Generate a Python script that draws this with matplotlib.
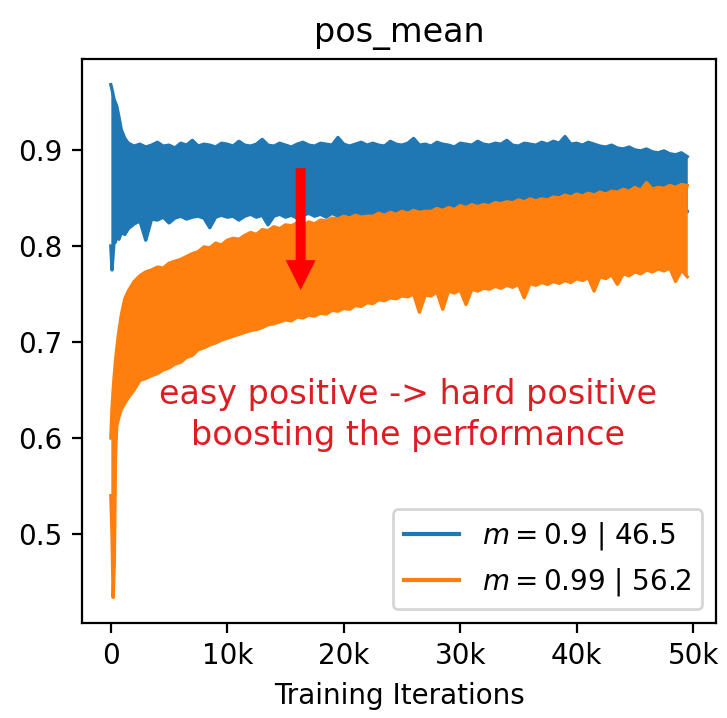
import matplotlib
matplotlib.use("Agg")
import matplotlib.pyplot as plt
import numpy as np

# ---- data ----
iters_early = [0, 100, 200, 300, 400, 500, 700, 900, 1200, 1500, 2000]
iters = np.array(iters_early + list(range(2500, 50000, 500)))

blue_top = [
    0.968, 0.963, 0.957, 0.952, 0.949, 0.946, 0.934, 0.921, 0.912, 0.907, 0.904,
    0.906, 0.903, 0.905, 0.908, 0.904, 0.905, 0.902, 0.907, 0.905, 0.910,
    0.904, 0.906, 0.905, 0.903, 0.907, 0.906, 0.904, 0.909, 0.905, 0.904,
    0.906, 0.911, 0.905, 0.904, 0.907, 0.905, 0.903, 0.906, 0.908, 0.905,
    0.904, 0.907, 0.906, 0.905, 0.913, 0.906, 0.904, 0.906, 0.908, 0.905,
    0.907, 0.905, 0.904, 0.909, 0.906, 0.905, 0.907, 0.912, 0.905, 0.906,
    0.904, 0.908, 0.906, 0.905, 0.903, 0.907, 0.906, 0.905, 0.909, 0.906,
    0.905, 0.907, 0.906, 0.910, 0.905, 0.904, 0.907, 0.906, 0.905, 0.908,
    0.906, 0.909, 0.907, 0.914, 0.906, 0.907, 0.905, 0.908, 0.906, 0.904,
    0.903, 0.905, 0.902, 0.901, 0.903, 0.900, 0.899, 0.901, 0.898, 0.897,
    0.899, 0.896, 0.895, 0.897, 0.893,
]
blue_bottom = [
    0.800, 0.775, 0.792, 0.808, 0.804, 0.812, 0.807, 0.814, 0.812, 0.818, 0.823,
    0.826, 0.806, 0.828, 0.827, 0.830, 0.824, 0.829, 0.831, 0.828, 0.830,
    0.831, 0.829, 0.819, 0.830, 0.832, 0.830, 0.831, 0.827, 0.831, 0.833,
    0.830, 0.832, 0.822, 0.831, 0.833, 0.830, 0.832, 0.829, 0.832, 0.834,
    0.831, 0.833, 0.830, 0.834, 0.831, 0.833, 0.830, 0.833, 0.832, 0.833,
    0.832, 0.830, 0.832, 0.829, 0.831, 0.833, 0.830, 0.832, 0.831, 0.832,
    0.831, 0.832, 0.830, 0.832, 0.831, 0.833, 0.831, 0.832, 0.830, 0.832,
    0.831, 0.832, 0.830, 0.832, 0.831, 0.833, 0.832, 0.833, 0.831, 0.833,
    0.832, 0.833, 0.831, 0.834, 0.832, 0.834, 0.833, 0.834, 0.832, 0.834,
    0.833, 0.835, 0.833, 0.835, 0.834, 0.835, 0.834, 0.836, 0.834, 0.836,
    0.835, 0.836, 0.835, 0.837, 0.836,
]
orange_top = [
    0.600, 0.630, 0.650, 0.666, 0.680, 0.692, 0.712, 0.728, 0.745, 0.753, 0.763,
    0.769, 0.773, 0.775, 0.778, 0.777, 0.782, 0.784, 0.786, 0.789, 0.792,
    0.794, 0.799, 0.798, 0.803, 0.801, 0.806, 0.808, 0.807, 0.811, 0.814,
    0.812, 0.817, 0.816, 0.820, 0.818, 0.822, 0.821, 0.824, 0.822, 0.825,
    0.823, 0.827, 0.826, 0.829, 0.828, 0.831, 0.829, 0.832, 0.830, 0.831,
    0.831, 0.834, 0.832, 0.835, 0.833, 0.836, 0.834, 0.837, 0.835, 0.836,
    0.836, 0.839, 0.837, 0.840, 0.838, 0.842, 0.840, 0.843, 0.841, 0.843,
    0.842, 0.845, 0.844, 0.846, 0.845, 0.848, 0.846, 0.849, 0.847, 0.849,
    0.848, 0.851, 0.850, 0.853, 0.851, 0.854, 0.852, 0.855, 0.853, 0.856,
    0.854, 0.857, 0.856, 0.859, 0.857, 0.861, 0.858, 0.866, 0.859, 0.861,
    0.860, 0.863, 0.861, 0.864, 0.863,
]
orange_bottom = [
    0.540, 0.500, 0.434, 0.470, 0.580, 0.612, 0.622, 0.630, 0.636, 0.642, 0.650,
    0.660, 0.662, 0.665, 0.667, 0.671, 0.673, 0.677, 0.679, 0.684, 0.686,
    0.692, 0.694, 0.697, 0.699, 0.702, 0.704, 0.706, 0.708, 0.710, 0.712,
    0.713, 0.715, 0.718, 0.719, 0.721, 0.723, 0.722, 0.726, 0.725, 0.728,
    0.727, 0.730, 0.729, 0.733, 0.732, 0.735, 0.734, 0.738, 0.737, 0.741,
    0.740, 0.744, 0.743, 0.746, 0.745, 0.748, 0.747, 0.750, 0.731, 0.749,
    0.748, 0.752, 0.734, 0.753, 0.751, 0.754, 0.739, 0.755, 0.753, 0.756,
    0.755, 0.758, 0.756, 0.759, 0.757, 0.760, 0.746, 0.761, 0.759, 0.762,
    0.760, 0.763, 0.761, 0.764, 0.762, 0.766, 0.764, 0.767, 0.753, 0.768,
    0.766, 0.770, 0.760, 0.771, 0.769, 0.773, 0.771, 0.775, 0.773, 0.776,
    0.774, 0.777, 0.763, 0.775, 0.768,
]

series_labels = [r"$m = 0.9$ | 46.5", r"$m = 0.99$ | 56.2"]
series_colors = ["#1f77b4", "#ff7f0e"]
xtick_vals = [0, 10000, 20000, 30000, 40000, 50000]
xtick_labels = ["0", "10k", "20k", "30k", "40k", "50k"]
title = "pos_mean"
xlabel = "Training Iterations"
note = "easy positive -> hard positive\nboosting the performance"
arrow_x = 16300
arrow_from, arrow_to = 0.881, 0.754

# ---- plot ----
fig = plt.figure(figsize=(7.27 / 2, 7.18 / 2), dpi=200)
ax = fig.add_axes([0.1128, 0.1323, 0.985 - 0.1128, 0.9178 - 0.1323])

for k, (top, bot, col) in enumerate([
    (blue_top, blue_bottom, series_colors[0]),
    (orange_top, orange_bottom, series_colors[1]),
]):
    z = 2 + k
    ax.fill_between(iters, bot, top, color=col, lw=0, zorder=z)
    ax.plot(iters, top, color=col, lw=1.2, zorder=z + 0.1)
    ax.plot(iters, bot, color=col, lw=1.2, zorder=z + 0.1)

ax.annotate("", xy=(arrow_x, arrow_to), xytext=(arrow_x, arrow_from),
            arrowprops=dict(facecolor="red", edgecolor="none", width=3.6,
                            headwidth=10.8, headlength=10.8, shrink=0),
            zorder=6)

ax.text(0.514, 0.369, note, transform=ax.transAxes, ha="center", va="center",
        fontsize=12, color="#dc1e24", linespacing=1.3, zorder=6)

ax.set_xticks(xtick_vals)
ax.set_xticklabels(xtick_labels)
ax.set_title(title, fontsize=12)
ax.set_xlabel(xlabel)
leg = ax.legend(handles=[plt.Line2D([], [], color=c, lw=1.5) for c in series_colors],
                labels=series_labels, loc="lower right")
leg.set_zorder(10)

fig.savefig("out.png", dpi=200)
